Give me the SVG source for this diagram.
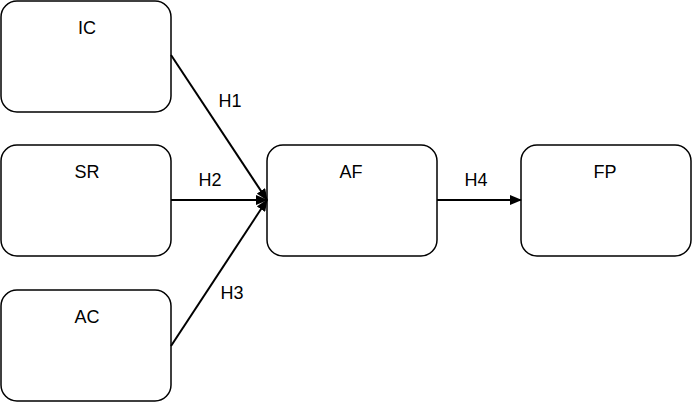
<svg xmlns="http://www.w3.org/2000/svg" width="692" height="402" viewBox="0 0 692 402">
<style>
.box{fill:#fff;stroke:#000;stroke-width:1.5}
.lbl{font-family:"Liberation Sans","DejaVu Sans",sans-serif;font-size:18px;fill:#000;text-anchor:middle}
.con{stroke:#000;stroke-width:2;fill:none}
</style>
<defs>
<marker id="ah" markerWidth="12" markerHeight="10" refX="11" refY="5" orient="auto" markerUnits="userSpaceOnUse">
<path d="M0,0 L12,5 L0,10 z" fill="#000"/>
</marker>
</defs>
<g id="IC"><rect class="box" x="1" y="1" width="170" height="111" rx="16"/><text class="lbl" x="87" y="34">IC</text></g>
<g id="SR"><rect class="box" x="1" y="145" width="170" height="111" rx="16"/><text class="lbl" x="87" y="178">SR</text></g>
<g id="AC"><rect class="box" x="1" y="290" width="170" height="111" rx="16"/><text class="lbl" x="87" y="323">AC</text></g>
<g id="AF"><rect class="box" x="267" y="145" width="170" height="111" rx="16"/><text class="lbl" x="351" y="178">AF</text></g>
<g id="FP"><rect class="box" x="521" y="145" width="170" height="111" rx="16"/><text class="lbl" x="605" y="178">FP</text></g>
<g id="connectors">
<line class="con" x1="171" y1="55" x2="267" y2="200" marker-end="url(#ah)"/>
<line class="con" x1="171" y1="200" x2="267" y2="200" marker-end="url(#ah)"/>
<line class="con" x1="171" y1="346" x2="267" y2="200" marker-end="url(#ah)"/>
<line class="con" x1="437" y1="200" x2="521" y2="200" marker-end="url(#ah)"/>
<text class="lbl" x="230" y="107">H1</text>
<text class="lbl" x="210" y="186">H2</text>
<text class="lbl" x="232" y="299">H3</text>
<text class="lbl" x="476" y="186">H4</text>
</g>
</svg>
